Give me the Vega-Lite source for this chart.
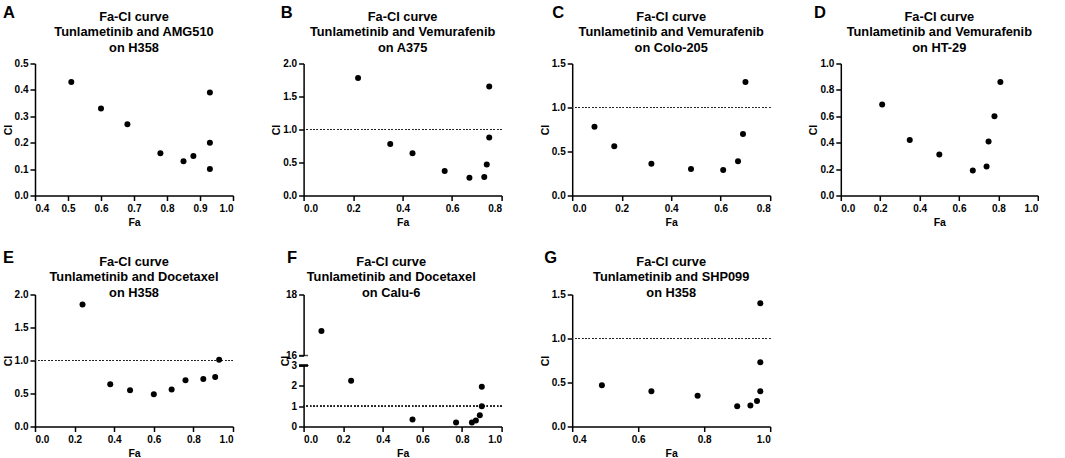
{
  "$schema": "https://vega.github.io/schema/vega-lite/v6.json",
  "padding": {"left": 3, "top": 4.5, "right": 0, "bottom": 0},
  "background": "white",
  "datasets": {
    "a": [
      {"Fa": 0.51, "CI": 0.43}, {"Fa": 0.60, "CI": 0.33}, {"Fa": 0.68, "CI": 0.27},
      {"Fa": 0.78, "CI": 0.16}, {"Fa": 0.85, "CI": 0.13}, {"Fa": 0.88, "CI": 0.15},
      {"Fa": 0.93, "CI": 0.39}, {"Fa": 0.93, "CI": 0.20}, {"Fa": 0.93, "CI": 0.10}
    ],
    "b": [
      {"Fa": 0.22, "CI": 1.78}, {"Fa": 0.35, "CI": 0.78}, {"Fa": 0.44, "CI": 0.64},
      {"Fa": 0.57, "CI": 0.37}, {"Fa": 0.67, "CI": 0.27}, {"Fa": 0.73, "CI": 0.28},
      {"Fa": 0.74, "CI": 0.47}, {"Fa": 0.75, "CI": 0.88}, {"Fa": 0.75, "CI": 1.65}
    ],
    "c": [
      {"Fa": 0.09, "CI": 0.78}, {"Fa": 0.17, "CI": 0.56}, {"Fa": 0.32, "CI": 0.36},
      {"Fa": 0.48, "CI": 0.30}, {"Fa": 0.61, "CI": 0.29}, {"Fa": 0.67, "CI": 0.39},
      {"Fa": 0.69, "CI": 0.70}, {"Fa": 0.70, "CI": 1.29}
    ],
    "d": [
      {"Fa": 0.21, "CI": 0.69}, {"Fa": 0.35, "CI": 0.42}, {"Fa": 0.50, "CI": 0.31},
      {"Fa": 0.67, "CI": 0.19}, {"Fa": 0.74, "CI": 0.22}, {"Fa": 0.75, "CI": 0.41},
      {"Fa": 0.78, "CI": 0.60}, {"Fa": 0.81, "CI": 0.86}
    ],
    "e": [
      {"Fa": 0.24, "CI": 1.85}, {"Fa": 0.38, "CI": 0.64}, {"Fa": 0.48, "CI": 0.55},
      {"Fa": 0.60, "CI": 0.49}, {"Fa": 0.69, "CI": 0.56}, {"Fa": 0.76, "CI": 0.70},
      {"Fa": 0.85, "CI": 0.72}, {"Fa": 0.91, "CI": 0.75}, {"Fa": 0.93, "CI": 1.01}
    ],
    "f": [
      {"Fa": 0.09, "CI": 16.8}, {"Fa": 0.24, "CI": 2.25}, {"Fa": 0.55, "CI": 0.35},
      {"Fa": 0.77, "CI": 0.20}, {"Fa": 0.85, "CI": 0.20}, {"Fa": 0.87, "CI": 0.30},
      {"Fa": 0.89, "CI": 0.55}, {"Fa": 0.90, "CI": 1.00}, {"Fa": 0.90, "CI": 1.95}
    ],
    "g": [
      {"Fa": 0.49, "CI": 0.47}, {"Fa": 0.64, "CI": 0.40}, {"Fa": 0.78, "CI": 0.35},
      {"Fa": 0.90, "CI": 0.23}, {"Fa": 0.94, "CI": 0.24}, {"Fa": 0.96, "CI": 0.29},
      {"Fa": 0.97, "CI": 0.40}, {"Fa": 0.97, "CI": 0.73}, {"Fa": 0.97, "CI": 1.40}
    ]
  },
  "columns": 4,
  "spacing": {"column": 37.6, "row": 21},
  "concat": [
    {
      "title": {"text": "A", "anchor": "start", "frame": "bounds", "offset": -11, "dx": 0, "fontSize": 16.5},
      "vconcat": [{
        "title": {"text": ["Fa-CI curve", "Tunlametinib and AMG510", "on H358"], "offset": 4},
        "width": 198, "height": 132,
        "data": {"name": "a"},
        "mark": {"type": "point", "filled": true, "size": 36, "opacity": 1, "color": "black"},
        "encoding": {
          "x": {"field": "Fa", "type": "quantitative", "scale": {"domain": [0.4, 1.0], "nice": false, "zero": false},
                "axis": {"values": [0.4, 0.5, 0.6, 0.7, 0.8, 0.9, 1.0], "format": ".1f"}},
          "y": {"field": "CI", "type": "quantitative", "scale": {"domain": [0, 0.5], "nice": false},
                "axis": {"values": [0, 0.1, 0.2, 0.3, 0.4, 0.5], "format": ".1f"}}
        }
      }]
    },
    {
      "title": {"text": "B", "anchor": "start", "frame": "bounds", "offset": -11, "dx": 9, "fontSize": 16.5},
      "vconcat": [{
        "title": {"text": ["Fa-CI curve", "Tunlametinib and Vemurafenib", "on A375"], "offset": 4},
        "width": 198, "height": 132,
        "data": {"name": "b"},
        "encoding": {
          "x": {"field": "Fa", "type": "quantitative", "scale": {"domain": [0, 0.8], "nice": false},
                "axis": {"values": [0, 0.2, 0.4, 0.6, 0.8], "format": ".1f"}},
          "y": {"field": "CI", "type": "quantitative", "scale": {"domain": [0, 2], "nice": false},
                "axis": {"values": [0, 0.5, 1, 1.5, 2], "format": ".1f"}}
        },
        "layer": [
          {"mark": {"type": "rule", "strokeDash": [1.2, 2.2], "strokeWidth": 1.1, "color": "#222"},
           "encoding": {"y": {"datum": 1}, "x": null}},
          {"mark": {"type": "point", "filled": true, "size": 36, "opacity": 1, "color": "black"}}
        ]
      }]
    },
    {
      "title": {"text": "C", "anchor": "start", "frame": "bounds", "offset": -11, "dx": 12, "fontSize": 16.5},
      "vconcat": [{
        "title": {"text": ["Fa-CI curve", "Tunlametinib and Vemurafenib", "on Colo-205"], "offset": 4},
        "width": 198, "height": 132,
        "data": {"name": "c"},
        "encoding": {
          "x": {"field": "Fa", "type": "quantitative", "scale": {"domain": [0, 0.8], "nice": false},
                "axis": {"values": [0, 0.2, 0.4, 0.6, 0.8], "format": ".1f"}},
          "y": {"field": "CI", "type": "quantitative", "scale": {"domain": [0, 1.5], "nice": false},
                "axis": {"values": [0, 0.5, 1, 1.5], "format": ".1f"}}
        },
        "layer": [
          {"mark": {"type": "rule", "strokeDash": [1.2, 2.2], "strokeWidth": 1.1, "color": "#222"},
           "encoding": {"y": {"datum": 1}, "x": null}},
          {"mark": {"type": "point", "filled": true, "size": 36, "opacity": 1, "color": "black"}}
        ]
      }]
    },
    {
      "title": {"text": "D", "anchor": "start", "frame": "bounds", "offset": -11, "dx": 5, "fontSize": 16.5},
      "vconcat": [{
        "title": {"text": ["Fa-CI curve", "Tunlametinib and Vemurafenib", "on HT-29"], "offset": 4},
        "width": 197, "height": 132,
        "data": {"name": "d"},
        "mark": {"type": "point", "filled": true, "size": 36, "opacity": 1, "color": "black"},
        "encoding": {
          "x": {"field": "Fa", "type": "quantitative", "scale": {"domain": [0, 1], "nice": false},
                "axis": {"values": [0, 0.2, 0.4, 0.6, 0.8, 1.0], "format": ".1f"}},
          "y": {"field": "CI", "type": "quantitative", "scale": {"domain": [0, 1], "nice": false},
                "axis": {"values": [0, 0.2, 0.4, 0.6, 0.8, 1.0], "format": ".1f"}}
        }
      }]
    },
    {
      "title": {"text": "E", "anchor": "start", "frame": "bounds", "offset": -11, "dx": 0, "fontSize": 16.5},
      "vconcat": [{
        "title": {"text": ["Fa-CI curve", "Tunlametinib and Docetaxel", "on H358"], "offset": -10},
        "width": 198, "height": 132,
        "data": {"name": "e"},
        "encoding": {
          "x": {"field": "Fa", "type": "quantitative", "scale": {"domain": [0, 1], "nice": false},
                "axis": {"values": [0, 0.2, 0.4, 0.6, 0.8, 1.0], "format": ".1f"}},
          "y": {"field": "CI", "type": "quantitative", "scale": {"domain": [0, 2], "nice": false},
                "axis": {"values": [0, 0.5, 1, 1.5, 2], "format": ".1f"}}
        },
        "layer": [
          {"mark": {"type": "rule", "strokeDash": [1.2, 2.2], "strokeWidth": 1.1, "color": "#222"},
           "encoding": {"y": {"datum": 1}, "x": null}},
          {"mark": {"type": "point", "filled": true, "size": 36, "opacity": 1, "color": "black"}}
        ]
      }]
    },
    {
      "title": {"text": "F", "anchor": "start", "frame": "bounds", "offset": -11, "dx": 7, "fontSize": 16.5},
      "vconcat": [{
        "title": {"text": ["Fa-CI curve", "Tunlametinib and Docetaxel", "on Calu-6"], "offset": -10},
        "spacing": 10,
        "bounds": "flush",
        "vconcat": [
          {
            "width": 198, "height": 61,
            "data": {"name": "f"},
            "transform": [{"filter": "datum.CI >= 16"}],
            "encoding": {
              "x": {"field": "Fa", "type": "quantitative", "scale": {"domain": [0, 1], "nice": false}, "axis": null},
              "y": {"field": "CI", "type": "quantitative", "scale": {"domain": [16, 18], "nice": false, "zero": false},
                    "axis": {"values": [16, 17, 18], "format": "d", "title": null}}
            },
            "layer": [
              {"mark": {"type": "tick", "orient": "horizontal", "size": 9, "thickness": 1.5, "color": "black", "clip": false},
               "encoding": {"x": {"datum": 0}, "y": {"datum": 16}}},
              {"mark": {"type": "point", "filled": true, "size": 36, "opacity": 1, "color": "black"}}
            ]
          },
          {
            "width": 198, "height": 61,
            "data": {"name": "f"},
            "transform": [{"filter": "datum.CI <= 3"}],
            "encoding": {
              "x": {"field": "Fa", "type": "quantitative", "scale": {"domain": [0, 1], "nice": false},
                    "axis": {"values": [0, 0.2, 0.4, 0.6, 0.8, 1.0], "format": ".1f"}},
              "y": {"field": "CI", "type": "quantitative", "scale": {"domain": [0, 3], "nice": false},
                    "axis": {"values": [0, 1, 2, 3], "format": "d", "titleY": -5}}
            },
            "layer": [
              {"mark": {"type": "tick", "orient": "horizontal", "size": 9, "thickness": 1.5, "color": "black", "clip": false},
               "encoding": {"x": {"datum": 0}, "y": {"datum": 3}}},
              {"mark": {"type": "rule", "strokeDash": [1.2, 2.2], "strokeWidth": 1.1, "color": "#222"},
               "encoding": {"y": {"datum": 1}, "x": null}},
              {"mark": {"type": "point", "filled": true, "size": 36, "opacity": 1, "color": "black"}}
            ]
          }
        ]
      }]
    },
    {
      "title": {"text": "G", "anchor": "start", "frame": "bounds", "offset": -11, "dx": 4, "fontSize": 16.5},
      "vconcat": [{
        "title": {"text": ["Fa-CI curve", "Tunlametinib and SHP099", "on H358"], "offset": -10},
        "width": 198, "height": 132,
        "data": {"name": "g"},
        "encoding": {
          "x": {"field": "Fa", "type": "quantitative", "scale": {"domain": [0.4, 1.0], "nice": false, "zero": false},
                "axis": {"values": [0.4, 0.6, 0.8, 1.0], "format": ".1f"}},
          "y": {"field": "CI", "type": "quantitative", "scale": {"domain": [0, 1.5], "nice": false},
                "axis": {"values": [0, 0.5, 1, 1.5], "format": ".1f"}}
        },
        "layer": [
          {"mark": {"type": "rule", "strokeDash": [1.2, 2.2], "strokeWidth": 1.1, "color": "#222"},
           "encoding": {"y": {"datum": 1}, "x": null}},
          {"mark": {"type": "point", "filled": true, "size": 36, "opacity": 1, "color": "black"}}
        ]
      }]
    }
  ],
  "config": {
    "font": "Liberation Sans",
    "view": {"stroke": null},
    "axis": {
      "grid": false,
      "domainColor": "black",
      "domainWidth": 1.5,
      "tickColor": "black",
      "tickWidth": 1.5,
      "tickSize": 5,
      "labelPadding": 2,
      "labelColor": "black",
      "labelFont": "Liberation Sans",
      "labelFontWeight": "bold",
      "labelFontSize": 10,
      "titleColor": "black",
      "titleFont": "Liberation Sans",
      "titleFontWeight": "bold",
      "titleFontSize": 10.5,
      "titlePadding": 4
    },
    "axisX": {"labelPadding": 3},
    "axisY": {"titlePadding": 1},
    "title": {
      "font": "Liberation Sans",
      "fontSize": 12.8,
      "fontWeight": "bold",
      "color": "black",
      "lineHeight": 15.5,
      "anchor": "middle"
    }
  }
}
